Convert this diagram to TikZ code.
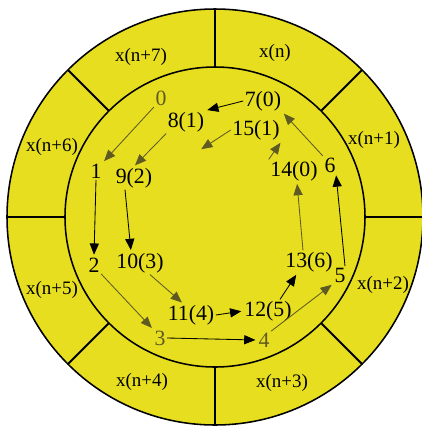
\documentclass[tikz,border=0pt]{standalone}
\usepackage{fontspec}
\setmainfont{Liberation Serif}
\usetikzlibrary{arrows.meta}
\usetikzlibrary{calc}
\definecolor{ringyellow}{HTML}{E6DE1E}
\definecolor{dimolive}{HTML}{5E5A22}

\begin{document}
\begin{tikzpicture}[x=0.025cm, y=-0.025cm,
    num/.style={inner sep=1pt, font=\fontsize{15.5}{17}\selectfont},
    dimnum/.style={num, text=dimolive},
    ringlabel/.style={inner sep=0pt, font=\fontsize{13.5}{15}\selectfont},
    darkarrow/.style={-{Triangle[length=8pt,width=6.5pt]}, line width=0.6pt, black, shorten >=1pt},
    lightarrow/.style={darkarrow, dimolive}]
        \useasboundingbox (0,0) rectangle (422,430);
        \coordinate (c) at (215,217);

        % 外側と内側の円
        \filldraw[fill=ringyellow, line width=1.1pt] (c) circle (208);
        \draw[line width=1.1pt] (c) circle (150);

        % 区切り線
        \foreach \a in {0,45,...,315} {
            \draw[line width=1.4pt] ($(c)+(\a:150)$) -- ($(c)+(\a:208)$);
        }

        % リングのラベル
        \node[ringlabel] (xn)  at (275,53)  {x(n)};
        \node[ringlabel] (xn1) at (374,140) {x(n+1)};
        \node[ringlabel] (xn2) at (383,285) {x(n+2)};
        \node[ringlabel] (xn3) at (282,383) {x(n+3)};
        \node[ringlabel] (xn4) at (142,382) {x(n+4)};
        \node[ringlabel] (xn5) at (52,290)  {x(n+5)};
        \node[ringlabel] (xn6) at (52,147)  {x(n+6)};
        \node[ringlabel] (xn7) at (141,57)  {x(n+7)};

        % 内側の番号
        \node[dimnum] (n0)  at (161,98)  {0};
        \node[num]    (n1)  at (96,171)  {1};
        \node[num]    (n2)  at (94,265)  {2};
        \node[dimnum] (n3)  at (160,338) {3};
        \node[dimnum] (n4)  at (264,340) {4};
        \node[num]    (n5)  at (340,275) {5};
        \node[num]    (n6)  at (330,165) {6};
        \node[num]    (n7)  at (263,101) {7(0)};
        \node[num]    (n8)  at (186,122) {8(1)};
        \node[num]    (n9)  at (134,178) {9(2)};
        \node[num]    (n10) at (140,263) {10(3)};
        \node[num]    (n11) at (191,315) {11(4)};
        \node[num]    (n12) at (268,311) {12(5)};
        \node[num]    (n13) at (309,262) {13(6)};
        \node[num]    (n14) at (294,171) {14(0)};
        \node[num]    (n15) at (256,130) {15(1)};
        \coordinate (wrap) at (200,150);

        % 矢印
        \draw[lightarrow] (n0.south west) -- (n1.north east);
        \draw[darkarrow]  (n1.south) -- (n2.north);
        \draw[lightarrow] (n2.south east) -- (n3.north west);
        \draw[darkarrow]  (n3.east) -- (n4.west);
        \draw[lightarrow] (n4.north east) -- (n5.south west);
        \draw[darkarrow]  ($(n5.north)+(5,0)$) -- ($(n6.south)+(6,0)$);
        \draw[lightarrow] (n6.north west) -- (n7.south east);
        \draw[darkarrow]  (n7.west) -- (n8.north east);
        \draw[lightarrow] (n8.south west) -- (n9.north);
        \draw[darkarrow]  ($(n9.south)+(-9,0)$) -- ($(n10.north)+(-9,0)$);
        \draw[lightarrow] ($(n10.south)+(10,0)$) -- ($(n11.north)+(-8,0)$);
        \draw[darkarrow]  (n11.east) -- (n12.west);
        \draw[darkarrow]  ($(n12.north)+(12,0)$) -- ($(n13.south)+(-12,0)$);
        \draw[lightarrow] ($(n13.north)+(-6,0)$) -- ($(n14.south)+(3,0)$);
        \draw[lightarrow] (n14.north west) -- (n15.south east);
        \draw[lightarrow] (n15.west) -- (wrap);
\end{tikzpicture}
\end{document}
